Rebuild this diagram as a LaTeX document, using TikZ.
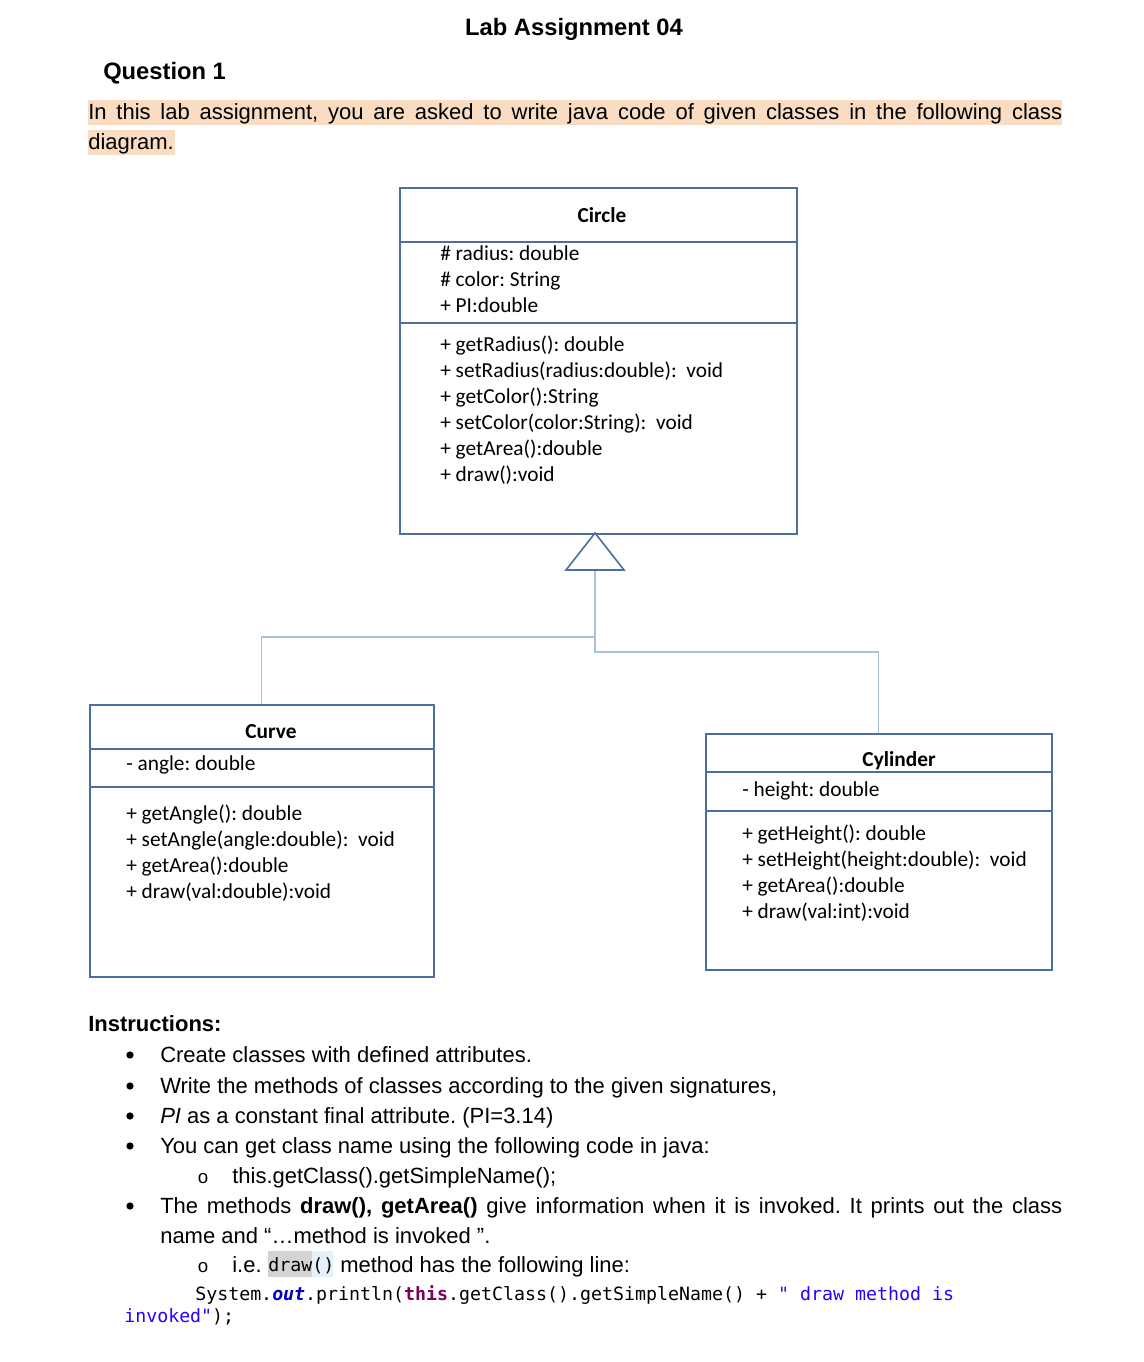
\documentclass[tikz,border=0pt]{standalone}
\usepackage{fontspec}
\setmainfont{Liberation Sans}
\newfontfamily\umlfont{Carlito}
\newfontfamily\codefont{DejaVu Sans Mono}
\definecolor{umlblue}{HTML}{4A6FA0}
\definecolor{connblue}{HTML}{A9C1DE}
\definecolor{hilite}{HTML}{F9DCC2}
\definecolor{codeout}{HTML}{0000C0}
\definecolor{codethis}{HTML}{7F0055}
\definecolor{codestr}{HTML}{2A00FF}
\definecolor{graybox}{HTML}{D3D3D3}
\definecolor{bluebox}{HTML}{E6F0FB}
\frenchspacing
\begin{document}
\begin{tikzpicture}[x=0.75pt,y=-0.75pt,
  txt/.style={anchor=base west,inner sep=0pt,font=\fontsize{16.5}{19}\selectfont},
  umltxt/.style={anchor=base west,inner sep=0pt,font=\umlfont\fontsize{16}{19}\selectfont},
  umltitle/.style={anchor=base,inner sep=0pt,font=\umlfont\bfseries\fontsize{16}{19}\selectfont},
  codetxt/.style={anchor=base west,inner sep=0pt,font=\codefont\fontsize{13.7}{16}\selectfont},
  umlbox/.style={draw=umlblue,line width=1.2pt,anchor=north west,inner sep=0pt},
  divider/.style={draw=umlblue,line width=1.2pt},
  conn/.style={draw=connblue,line width=1pt},
  bulletdot/.style={circle,fill=black,inner sep=0pt,minimum size=5.5pt},
  subbullet/.style={anchor=base,inner sep=0pt,font=\fontsize{14}{16}\selectfont}]
\useasboundingbox[fill=white] (0,0) rectangle (1144,1362);

% Header
\node[anchor=base,inner sep=0pt,font=\bfseries\fontsize{17.8}{21}\selectfont] (title) at (574,36) {Lab Assignment 04};
\node[txt,font=\bfseries\fontsize{17.8}{21}\selectfont] (q1) at (103,80) {Question 1};

% highlighted paragraph
\fill[hilite] (88,100) rectangle (1062,125);
\fill[hilite] (88,130) rectangle (175,155);
\node[txt] (para1) at (88,120) {\makebox[730.5pt][s]{In this lab assignment, you are asked to write java code of given classes in the following class}};
\node[txt] (para2) at (88,150) {diagram.};

% Circle class
\node[umlbox,minimum width=297.75pt,minimum height=259.5pt] (circle) at (399,187) {};
\draw[divider] (circle.west |- 0,242) -- (circle.east |- 0,242);
\draw[divider] (circle.west |- 0,323) -- (circle.east |- 0,323);
\node[umltitle] (circlename) at (602,223) {Circle};
\node[umltxt] (ca1) at (440,261) {\# radius: double};
\node[umltxt] (ca2) at (440,287) {\# color: String};
\node[umltxt] (ca3) at (440,313) {+ PI:double};
\node[umltxt] (cm1) at (440,351) {+ getRadius(): double};
\node[umltxt] (cm2) at (440,377) {+ setRadius(radius:double):~ void};
\node[umltxt] (cm3) at (440,403) {+ getColor():String};
\node[umltxt] (cm4) at (440,429) {+ setColor(color:String):~ void};
\node[umltxt] (cm5) at (440,455) {+ getArea():double};
\node[umltxt] (cm6) at (440,481) {+ draw():void};

% Curve class
\node[umlbox,minimum width=258pt,minimum height=204pt] (curve) at (89,704) {};
\draw[divider] (curve.west |- 0,749) -- (curve.east |- 0,749);
\draw[divider,line width=2pt] (curve.west |- 0,787) -- (curve.east |- 0,787);
\node[umltitle] (curvename) at (271,738) {Curve};
\node[umltxt] (cua1) at (126,770) {- angle: double};
\node[umltxt] (cum1) at (126,820) {+ getAngle(): double};
\node[umltxt] (cum2) at (126,846) {+ setAngle(angle:double):~ void};
\node[umltxt] (cum3) at (126,872) {+ getArea():double};
\node[umltxt] (cum4) at (126,898) {+ draw(val:double):void};

% Cylinder class
\node[umlbox,minimum width=259.5pt,minimum height=177pt] (cyl) at (705,733) {};
\draw[divider] (cyl.west |- 0,772) -- (cyl.east |- 0,772);
\draw[divider] (cyl.west |- 0,811) -- (cyl.east |- 0,811);
\node[umltitle] (cylname) at (899,766) {Cylinder};
\node[umltxt] (cya1) at (742,796) {- height: double};
\node[umltxt] (cym1) at (742,840) {+ getHeight(): double};
\node[umltxt] (cym2) at (742,866) {+ setHeight(height:double):~ void};
\node[umltxt] (cym3) at (742,892) {+ getArea():double};
\node[umltxt] (cym4) at (742,918) {+ draw(val:int):void};

% Inheritance
\coordinate (apex) at (595,533);
\coordinate (tribase) at (595,570);
\coordinate (j1) at (595,637);
\coordinate (j2) at (595,652);
\draw[conn] (tribase) -- (j2) -| (cyl.north);
\draw[conn] (j1) -| (curve.north);
\draw[draw=umlblue,line width=1.2pt,line join=miter] (apex) -- (566,570) -- (624,570) -- cycle;

% Instructions
\node[txt,font=\bfseries\fontsize{16.5}{19}\selectfont] (instr) at (88,1031) {Instructions:};
\node[bulletdot] (b1) at (130,1055) {};
\node[txt] (i1) at (160,1062) {Create classes with defined attributes.};
\node[bulletdot] (b2) at (130,1086) {};
\node[txt] (i2) at (160,1093) {Write the methods of classes according to the given signatures,};
\node[bulletdot] (b3) at (130,1116) {};
\node[txt] (i3) at (160,1123) {\textit{PI} as a constant final attribute. (PI=3.14)};
\node[bulletdot] (b4) at (130,1146) {};
\node[txt] (i4) at (160,1153) {You can get class name using the following code in java:};
\node[subbullet] (s1) at (203,1183) {o};
\node[txt] (i5) at (232,1183) {this.getClass().getSimpleName();};
\node[bulletdot] (b5) at (130,1206) {};
\node[txt] (i6) at (160,1213) {\makebox[676.5pt][s]{The methods \textbf{draw(), getArea()} give information when it is invoked. It prints out the class}};
\node[txt] (i7) at (160,1243) {name and “…method is invoked ”.};
\node[subbullet] (s2) at (203,1272) {o};
\node[txt] (i8) at (232,1272) {i.e.};
\fill[graybox] (268,1251) rectangle (312,1277);
\fill[bluebox] (312,1251) rectangle (333,1277);
\node[codetxt] (drawcode) at (268,1271) {draw()};
\node[txt] (i9) at (340,1272) {method has the following line:};
\node[codetxt] (code1) at (195,1300) {System.{\bfseries\itshape\color{codeout}out}.println({\bfseries\color{codethis}this}.getClass().getSimpleName() + {\color{codestr}" draw method is}};
\node[codetxt] (code2) at (124,1322) {{\color{codestr}invoked"});};
\end{tikzpicture}
\end{document}
